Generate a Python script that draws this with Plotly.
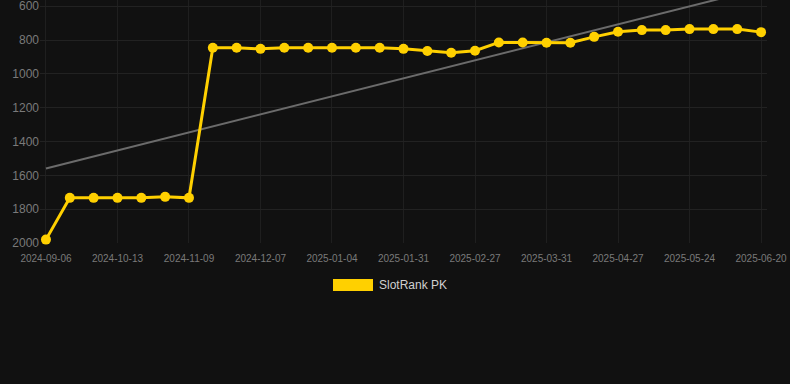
import numpy as np
import plotly.graph_objects as go

dates = ["2024-09-06", "2024-09-18", "2024-10-01", "2024-10-13", "2024-10-22", "2024-10-31",
         "2024-11-09", "2024-11-18", "2024-11-27", "2024-12-07", "2024-12-16", "2024-12-25",
         "2025-01-04", "2025-01-13", "2025-01-22", "2025-01-31", "2025-02-09", "2025-02-18",
         "2025-02-27", "2025-03-10", "2025-03-21", "2025-03-31", "2025-04-09", "2025-04-18",
         "2025-04-27", "2025-05-06", "2025-05-15", "2025-05-24", "2025-06-02", "2025-06-11",
         "2025-06-20"]
rank = [1980, 1733, 1733, 1733, 1733, 1727, 1733,
        845, 845, 852, 845, 845, 845, 845, 845, 852, 865, 875, 863,
        814, 814, 816, 816, 781, 751, 741, 741, 735, 735, 735, 753]
tick_labels = ["2024-09-06", "2024-10-13", "2024-11-09", "2024-12-07", "2025-01-04", "2025-01-31",
               "2025-02-27", "2025-03-31", "2025-04-27", "2025-05-24", "2025-06-20"]
y_ticks = [600, 800, 1000, 1200, 1400, 1600, 1800, 2000]
series_name = "SlotRank PK"

idx = np.arange(len(rank))
slope, intercept = np.polyfit(idx, rank, 1)
trend = slope * idx + intercept

fig = go.Figure()
fig.add_trace(go.Scatter(x=dates, y=trend, mode="lines",
                         line=dict(color="#6b6b6b", width=2),
                         showlegend=False, hoverinfo="skip"))
fig.add_trace(go.Scatter(x=dates, y=rank, mode="lines+markers", name=series_name,
                         line=dict(color="#FFD000", width=3),
                         marker=dict(color="#FFD000", size=10),
                         cliponaxis=False, showlegend=False))

# Legend drawn manually
L, R, T, B = 40, 23, 0, 141
pw, ph = 790 - L - R, 384 - T - B
def px(x):
    return (x - L) / pw
def py(y):
    return (ph + T - y) / ph

fig.add_shape(type="rect", xref="paper", yref="paper",
              x0=px(333), x1=px(373), y0=py(291), y1=py(279),
              fillcolor="#FFD000", line=dict(width=0))
fig.add_annotation(xref="paper", yref="paper", x=px(377), y=py(285),
                   text=series_name, showarrow=False, xanchor="left", yanchor="middle",
                   font=dict(size=12, color="#d0d0d0", family="Liberation Sans, Arial, sans-serif"))

fig.update_layout(
    width=790, height=384,
    margin=dict(l=L, r=R, t=T, b=B),
    paper_bgcolor="#111111", plot_bgcolor="#111111",
    font=dict(family="Liberation Sans, Arial, sans-serif", color="#7a7a7a"),
    showlegend=False,
)
fig.update_xaxes(type="category", range=[-0.25, len(dates) - 0.75],
                 tickvals=tick_labels, ticktext=tick_labels,
                 tickfont=dict(size=10, color="#7a7a7a"),
                 ticklabelstandoff=8, ticklabeloverflow="allow",
                 showgrid=True, gridcolor="#1f1f1f", gridwidth=1,
                 zeroline=False, showline=False, ticks="")
fig.update_yaxes(range=[2000, 563], tickvals=y_ticks,
                 tickfont=dict(size=12, color="#7a7a7a"),
                 ticklabeloverflow="allow",
                 showgrid=True, gridcolor="#222222", gridwidth=1,
                 zeroline=False, showline=False, ticks="")

fig.write_html("out.html", config={"displayModeBar": False},
               post_script="document.body.style.margin='0';document.body.style.background='#111111';")
